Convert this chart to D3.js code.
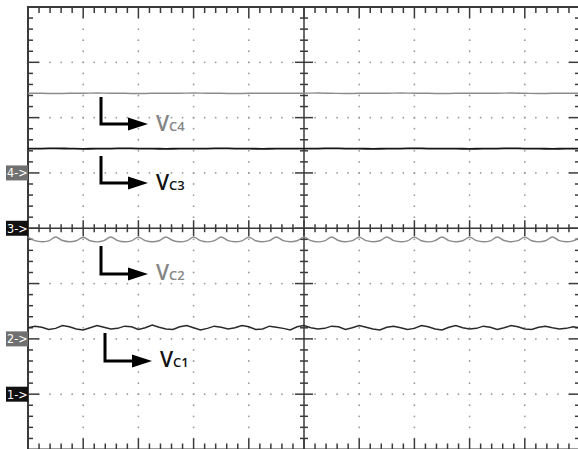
<!DOCTYPE html>
<html>
<head>
<meta charset="utf-8">
<script src="https://cdn.jsdelivr.net/npm/d3@7"></script>
<style>
  body { margin: 0; background: #fff; }
  svg { display: block; }
</style>
</head>
<body>
<div class="chart"></div>
<script>
/* trace values, in screen divisions (centre line = 0) */
const vc4 = [2.44,2.44,2.435,2.44,2.44,2.445,2.44,2.44,2.435,2.44,2.44,2.44,2.445,2.44,2.44,2.435,2.44,2.44,2.44,2.44,2.44,
  2.445,2.44,2.435,2.44,2.44,2.44,2.445,2.44,2.44,2.435,2.44,2.44,2.44,2.44,2.445,2.44,2.435,2.44,2.44,2.44];
const vc3 = [1.44,1.44,1.445,1.44,1.435,1.44,1.44,1.445,1.44,1.44,1.435,1.44,1.44,1.44,1.445,1.44,1.44,1.435,1.44,1.44,1.44,
  1.44,1.445,1.44,1.44,1.435,1.44,1.44,1.445,1.44,1.44,1.44,1.435,1.44,1.44,1.445,1.44,1.44,1.435,1.44,1.44];
const vc2 = [-0.16,-0.225,-0.245,-0.228, -0.158,-0.222,-0.243,-0.226, -0.162,-0.226,-0.246,-0.225, -0.158,-0.223,-0.244,-0.227,
  -0.16,-0.224,-0.245,-0.226, -0.157,-0.222,-0.244,-0.228, -0.161,-0.225,-0.246,-0.224, -0.159,-0.223,-0.243,-0.227,
  -0.16,-0.226,-0.245,-0.225, -0.158,-0.224,-0.244,-0.226, -0.16,-0.225,-0.246,-0.227, -0.157,-0.222,-0.244,-0.225,
  -0.161,-0.225,-0.245,-0.226, -0.159,-0.223,-0.243,-0.227, -0.16,-0.226,-0.246,-0.224, -0.158,-0.224,-0.244,-0.226,
  -0.16,-0.225,-0.245,-0.227, -0.157,-0.222,-0.244,-0.225, -0.161,-0.226,-0.246,-0.226, -0.159,-0.223,-0.243,-0.227, -0.16];
const vc1 = [-1.80,-1.77,-1.79,-1.83, -1.81,-1.76,-1.78,-1.82, -1.84,-1.80,-1.76,-1.79, -1.82,-1.81,-1.77,-1.78,
  -1.83,-1.80,-1.75,-1.79, -1.82,-1.83,-1.78,-1.76, -1.80,-1.84,-1.81,-1.77, -1.79,-1.82,-1.80,-1.76,
  -1.78,-1.83,-1.82,-1.77, -1.79,-1.81,-1.84,-1.78, -1.76,-1.80,-1.82,-1.81, -1.77,-1.78,-1.83,-1.80,
  -1.76,-1.79,-1.82,-1.84, -1.79,-1.77,-1.80,-1.83, -1.81,-1.76,-1.78,-1.82, -1.84,-1.79,-1.76,-1.80,
  -1.82,-1.81,-1.77,-1.79, -1.83,-1.80,-1.76,-1.78, -1.82,-1.83,-1.79,-1.77, -1.80,-1.82,-1.81,-1.78, -1.80];

/* channel ground markers: label, level in divisions, box colour */
const markers = [
  { label: "4->", level: 1, fill: "#707070" },
  { label: "3->", level: 0, fill: "#111" },
  { label: "2->", level: -2, fill: "#707070" },
  { label: "1->", level: -3, fill: "#111" }
];

/* trace labels and their arrows */
const notes = [
  { sub: "C4", color: "#858585", ax: 101, ay0: 97, ay1: 124, tx: 156, ty: 131 },
  { sub: "C3", color: "#111", ax: 101, ay0: 156, ay1: 183, tx: 156, ty: 190 },
  { sub: "C2", color: "#858585", ax: 101, ay0: 246, ay1: 274, tx: 156, ty: 280 },
  { sub: "C1", color: "#111", ax: 105, ay0: 333, ay1: 361, tx: 160, ty: 367 }
];

const width = 578;
const height = 449;
const gLeft = 28, gRight = 580, gTop = 7, gBottom = 449.5;

const svg = d3.select(".chart").append("svg")
  .attr("width", width)
  .attr("height", height)
  .attr("viewBox", [0, 0, width, height]);

/* scales in divisions */
const x = d3.scaleLinear().domain([0, 10]).range([gLeft, gRight]);
const y = d3.scaleLinear().domain([-4, 4]).range([gBottom, gTop]);

const minor = d3.range(0, 10.001, 0.2);
const minorY = d3.range(-4, 4.001, 0.2);
const isMajor = v => Math.abs(v - Math.round(v)) < 1e-6;

/* dotted graticule */
const dots = svg.append("g").attr("fill", "#9a9a9a");
d3.range(1, 10).filter(d => d !== 5).forEach(d => {
  dots.selectAll(null).data(minorY).join("circle")
    .attr("cx", x(d)).attr("cy", v => y(v)).attr("r", 0.9);
});
d3.range(-3, 4).filter(d => d !== 0).forEach(d => {
  dots.selectAll(null).data(minor).join("circle")
    .attr("cx", v => x(v)).attr("cy", y(d)).attr("r", 0.9);
});

/* frame and centre axes */
const frame = svg.append("g").attr("stroke", "#3a3a3a").attr("fill", "none");
frame.append("rect")
  .attr("x", gLeft).attr("y", gTop)
  .attr("width", gRight - gLeft).attr("height", gBottom - gTop)
  .attr("stroke-width", 2);
frame.append("line")
  .attr("x1", x(5)).attr("x2", x(5)).attr("y1", gTop).attr("y2", gBottom)
  .attr("stroke-width", 1.5);
frame.append("line")
  .attr("x1", gLeft).attr("x2", gRight).attr("y1", y(0)).attr("y2", y(0))
  .attr("stroke-width", 1.5);

/* ticks on the border and on the centre axes */
const ticks = svg.append("g").attr("stroke", "#3a3a3a").attr("stroke-width", 1.5);
minor.slice(1, -1).forEach(v => {
  const a = isMajor(v) ? 11 : 6;
  const c = isMajor(v) ? 8 : 4;
  ticks.append("line").attr("x1", x(v)).attr("x2", x(v)).attr("y1", gTop).attr("y2", gTop + a);
  ticks.append("line").attr("x1", x(v)).attr("x2", x(v)).attr("y1", gBottom).attr("y2", gBottom - a);
  ticks.append("line").attr("x1", x(v)).attr("x2", x(v)).attr("y1", y(0) - c).attr("y2", y(0) + c);
});
minorY.slice(1, -1).forEach(v => {
  const a = isMajor(v) ? 11 : 5;
  const c = isMajor(v) ? 9 : 4;
  ticks.append("line").attr("y1", y(v)).attr("y2", y(v)).attr("x1", gLeft).attr("x2", gLeft + a);
  ticks.append("line").attr("y1", y(v)).attr("y2", y(v)).attr("x1", gRight).attr("x2", gRight - a);
  ticks.append("line").attr("y1", y(v)).attr("y2", y(v)).attr("x1", x(5) - c).attr("x2", x(5) + c);
});

/* traces */
const lineOf = curve => d3.line()
  .x((d, i, arr) => x(i * 10 / (arr.length - 1)))
  .y(d => y(d))
  .curve(curve);

const traces = [
  { values: vc4, color: "#8c8c8c", w: 1.4, curve: d3.curveMonotoneX },
  { values: vc3, color: "#151515", w: 1.8, curve: d3.curveMonotoneX },
  { values: vc2, color: "#8c8c8c", w: 1.4, curve: d3.curveMonotoneX },
  { values: vc1, color: "#2a2a2a", w: 1.5, curve: d3.curveLinear }
];
svg.append("g").selectAll("path")
  .data(traces)
  .join("path")
  .attr("d", d => lineOf(d.curve)(d.values))
  .attr("fill", "none")
  .attr("stroke", d => d.color)
  .attr("stroke-width", d => d.w);

/* channel markers */
const mk = svg.append("g").selectAll("g")
  .data(markers)
  .join("g")
  .attr("transform", d => `translate(6,${y(d.level)})`);
mk.append("rect")
  .attr("x", 0).attr("y", -7.5)
  .attr("width", gLeft - 6).attr("height", 15)
  .attr("fill", d => d.fill);
mk.append("text")
  .attr("x", 1).attr("y", 4.5)
  .attr("fill", "#fff")
  .style("font", "12.5px 'Liberation Sans Narrow', 'DejaVu Sans Condensed', sans-serif")
  .text(d => d.label);

/* arrows and labels */
const nt = svg.append("g").selectAll("g")
  .data(notes)
  .join("g");
nt.append("path")
  .attr("d", d => `M${d.ax},${d.ay0}V${d.ay1}H${d.ax + 30}`)
  .attr("fill", "none")
  .attr("stroke", "#000")
  .attr("stroke-width", 3);
nt.append("path")
  .attr("d", d => `M${d.ax + 27},${d.ay1 - 6.5}L${d.ax + 47},${d.ay1}L${d.ax + 27},${d.ay1 + 6.5}Z`)
  .attr("fill", "#000");
const lab = nt.append("text")
  .attr("x", d => d.tx).attr("y", d => d.ty)
  .attr("fill", d => d.color)
  .style("font-family", "'Open Sans', Lato, sans-serif")
  .style("font-weight", 600);
lab.append("tspan").style("font-size", "21px").text("V");
lab.append("tspan").style("font-size", "13px").text(d => d.sub);
</script>
</body>
</html>
